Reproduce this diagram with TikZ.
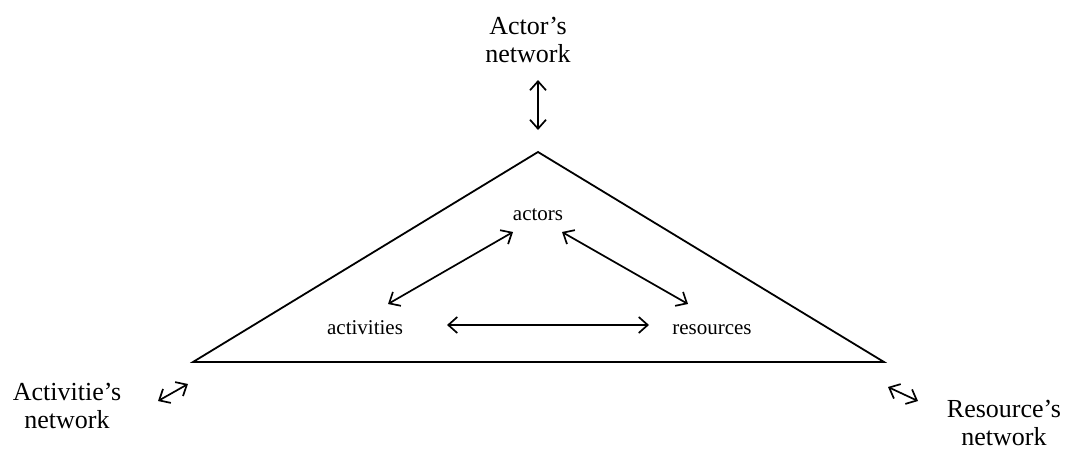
\documentclass[tikz,border=0pt]{standalone}
\usepackage{fontspec}
\setmainfont{Liberation Serif}
\usetikzlibrary{arrows.meta}
\begin{document}
\begin{tikzpicture}[x=1pt,y=-1pt,
  bigtext/.style={font=\fontsize{26}{28}\selectfont, align=center, inner sep=0pt, anchor=base},
  smalltext/.style={font=\fontsize{21}{24}\selectfont, inner sep=0pt, anchor=base},
  dbl/.style={{Straight Barb[length=9pt,width=16pt]}-{Straight Barb[length=9pt,width=16pt]}, line width=1.7pt},
  tri/.style={line width=1.8pt, line join=miter}]
\useasboundingbox (0,0) rectangle (1067,450);
% outer labels (anchor base = last line)
\node[bigtext] (actnet) at (528,62) {Actor's\\network};
\node[bigtext] (actvnet) at (67,428) {Activitie's\\network};
\node[bigtext] (resnet) at (1004,445) {Resource's\\network};
% triangle
\coordinate (apex) at (538,152);
\coordinate (lc) at (193,362);
\coordinate (rc) at (884,362);
\draw[tri] (apex) -- (rc) -- (lc) -- cycle;
% inner labels
\node[smalltext] (actors) at (538,220) {actors};
\node[smalltext] (activities) at (365,334) {activities};
\node[smalltext] (resources) at (712,334) {resources};
% arrow end points
\coordinate (t1) at (538,80); \coordinate (t2) at (538,130);
\coordinate (l1) at (158,401); \coordinate (l2) at (188,384);
\coordinate (r1) at (888,387); \coordinate (r2) at (918,401);
\coordinate (aa1) at (513,232); \coordinate (aa2) at (388,304);
\coordinate (ar1) at (562,232); \coordinate (ar2) at (688,304);
\coordinate (h1) at (447,325); \coordinate (h2) at (649,325);
\draw[dbl] (t1) -- (t2);
\draw[dbl] (l1) -- (l2);
\draw[dbl] (r1) -- (r2);
\draw[dbl] (aa1) -- (aa2);
\draw[dbl] (ar1) -- (ar2);
\draw[dbl] (h1) -- (h2);
\end{tikzpicture}
\end{document}
